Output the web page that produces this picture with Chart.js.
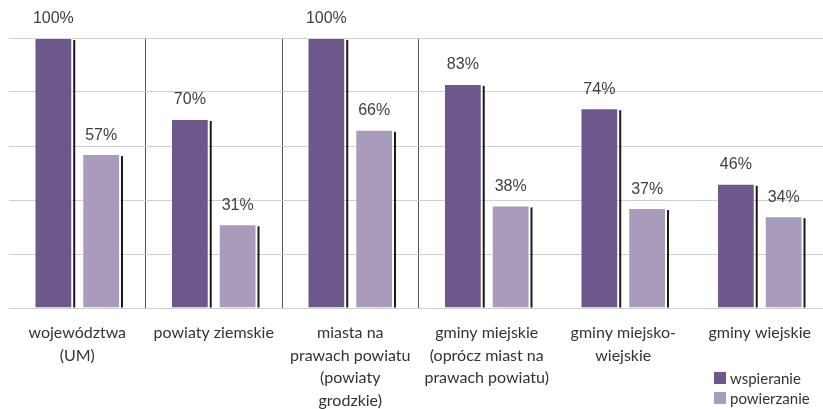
<!DOCTYPE html>
<html>
<head>
<meta charset="utf-8">
<script src="https://cdn.jsdelivr.net/npm/chart.js@4/dist/chart.umd.min.js"></script>
<style>
  body { margin: 0; background: #fff; }
  #wrap { position: relative; width: 823px; height: 409px; overflow: hidden; }
  #legend { position: absolute; left: 714px; top: 368px; font: 15px Lato, sans-serif; color: #333; }
  #legend div { display: flex; align-items: center; height: 20px; }
  #legend span.box { width: 12px; height: 12px; margin-right: 4px; display: inline-block; }
</style>
</head>
<body>
<div id="wrap">
  <canvas id="chart" width="828" height="409"></canvas>
  <div id="legend"></div>
</div>
<script>
// categories and values
const categories = [
  ["województwa", "(UM)"],
  "powiaty ziemskie",
  ["miasta na", "prawach powiatu", "(powiaty", "grodzkie)"],
  ["gminy miejskie", "(oprócz miast na", "prawach powiatu)"],
  ["gminy miejsko-", "wiejskie"],
  "gminy wiejskie"
];
const wspieranie = [100, 70, 100, 83, 74, 46];
const powierzanie = [57, 31, 66, 38, 37, 34];
const seriesNames = ["wspieranie", "powierzanie"];
const colors = ["#6d578c", "#a99bbc"];

// value labels + dark edge on the right side of each bar
const barExtras = {
  id: "barExtras",
  afterDatasetsDraw(chart) {
    const ctx = chart.ctx;
    ctx.save();
    chart.data.datasets.forEach((ds, i) => {
      chart.getDatasetMeta(i).data.forEach((bar, j) => {
        const right = bar.x + bar.width / 2;
        ctx.fillStyle = "#1a1a1a";
        ctx.fillRect(right + 1, bar.y + 2, 2, bar.base - bar.y - 2);
        ctx.fillStyle = "#404040";
        ctx.font = "16px 'Liberation Sans', Arial, sans-serif";
        ctx.textAlign = "center";
        ctx.textBaseline = "middle";
        ctx.fillText(ds.data[j] + "%", bar.x, bar.y - 19);
      });
    });
    ctx.restore();
  }
};

new Chart(document.getElementById("chart"), {
  type: "bar",
  data: {
    labels: categories,
    datasets: [
      { label: seriesNames[0], data: wspieranie, backgroundColor: colors[0] },
      { label: seriesNames[1], data: powierzanie, backgroundColor: colors[1] }
    ]
  },
  options: {
    responsive: false,
    animation: false,
    layout: { padding: { left: 9, top: 38, right: 0, bottom: 0 } },
    datasets: {
      bar: {
        categoryPercentage: 0.7,
        barPercentage: 0.79,
        borderWidth: 1,
        borderColor: "rgba(255,255,255,0.3)",
        clip: 0
      }
    },
    plugins: {
      legend: { display: false },
      tooltip: { enabled: false }
    },
    scales: {
      x: {
        grid: {
          offset: true,
          drawTicks: false,
          color: (c) => (c.index >= 1 && c.index <= 3 ? "#555" : "rgba(0,0,0,0)")
        },
        border: { display: false },
        ticks: {
          padding: 14,
          color: "#333",
          maxRotation: 0,
          autoSkip: false,
          font: { family: "Lato", size: 16, lineHeight: 1.4 }
        },
        afterFit: (scale) => { scale.height = 101; }
      },
      y: {
        min: 0,
        max: 100,
        ticks: { display: false, stepSize: 20 },
        grid: { color: "#cfcfcf", drawTicks: false },
        border: { display: false }
      }
    }
  },
  plugins: [barExtras]
});

// legend built from the dataset names
document.getElementById("legend").innerHTML = seriesNames
  .map((n, i) => `<div><span class="box" style="background:${colors[i]}"></span>${n}</div>`)
  .join("");
</script>
</body>
</html>
